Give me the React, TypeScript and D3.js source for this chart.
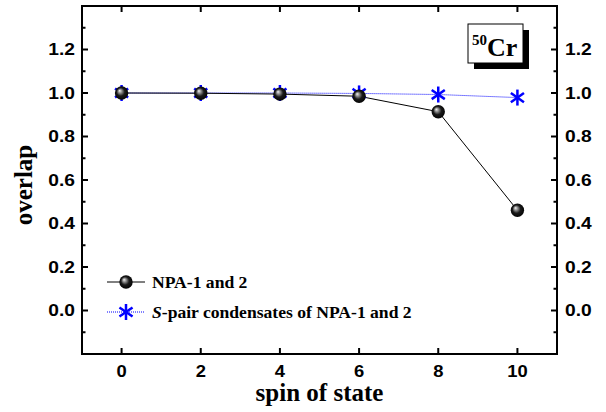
import React from "react";
import * as d3 from "d3";

const spins = [0, 2, 4, 6, 8, 10];
const npaValues = [1.0, 0.999, 0.995, 0.985, 0.914, 0.461];
const sPairValues = [1.0, 1.0, 1.0, 0.998, 0.993, 0.979];
const xTicks = [0, 2, 4, 6, 8, 10];
const yTicks = [0.0, 0.2, 0.4, 0.6, 0.8, 1.0, 1.2];
const yMinorTicks = [-0.1, 0.1, 0.3, 0.5, 0.7, 0.9, 1.1, 1.3];
const legendLabels = ["NPA-1 and 2", "-pair condensates of NPA-1 and 2"];

const W = 606, H = 412;
const L = 82, R = 557, T = 6, B = 354;

function Star({ cx, cy, r }: { cx: number; cy: number; r: number }) {
  const arms = [90, 35, -35];
  return (
    <g stroke="#0000ff" strokeWidth={2.5} strokeLinecap="butt">
      {arms.map((a, i) => {
        const rad = (a * Math.PI) / 180;
        const dx = Math.cos(rad) * r, dy = Math.sin(rad) * r;
        return <line key={i} x1={cx - dx} y1={cy - dy} x2={cx + dx} y2={cy + dy} />;
      })}
    </g>
  );
}

function SText({ x, y, anchor, sx, children, ...rest }: any) {
  return (
    <g transform={`translate(${x},${y}) scale(${sx},1)`}>
      <text x={0} y={0} textAnchor={anchor} {...rest}>
        {children}
      </text>
    </g>
  );
}

export default function App() {
  const x = d3.scaleLinear().domain([-1, 11]).range([L, R]);
  const y = d3.scaleLinear().domain([-0.2, 1.4]).range([B, T]);
  const line = d3.line<number>().x((_, i) => x(spins[i])).y((d) => y(d));
  const tickFont = "'Liberation Sans', Arial, sans-serif";
  const serif = "'Liberation Serif', 'Times New Roman', serif";
  const sphereR = 6.7;
  const tsx = 1.2;

  return (
    <svg width={W} height={H} style={{ position: "absolute", left: 0, top: 0, background: "#fff" }}>
      <defs>
        <radialGradient id="sph" cx="50%" cy="50%" r="55%" fx="35%" fy="32%">
          <stop offset="0%" stopColor="#f4f4f4" />
          <stop offset="22%" stopColor="#9a9a9a" />
          <stop offset="55%" stopColor="#1a1a1a" />
          <stop offset="100%" stopColor="#000" />
        </radialGradient>
      </defs>
      <rect x={0} y={0} width={W} height={H} fill="#fff" />

      {/* data lines */}
      <path d={line(sPairValues) || ""} fill="none" stroke="#0000ff" strokeWidth={1} strokeDasharray="1,1" />
      <path d={line(npaValues) || ""} fill="none" stroke="#000" strokeWidth={1} />

      {/* markers */}
      {sPairValues.map((v, i) => (
        <Star key={"s" + i} cx={x(spins[i])} cy={y(v)} r={8} />
      ))}
      {npaValues.map((v, i) => (
        <circle key={"n" + i} cx={x(spins[i])} cy={y(v)} r={sphereR} fill="url(#sph)" />
      ))}

      {/* axes frame */}
      <rect x={L} y={T} width={R - L} height={B - T} fill="none" stroke="#000" strokeWidth={2} />

      {/* x ticks */}
      {xTicks.map((t) => (
        <g key={"x" + t}>
          <line x1={x(t)} x2={x(t)} y1={B} y2={B - 6} stroke="#000" strokeWidth={2} />
          <line x1={x(t)} x2={x(t)} y1={T} y2={T + 6} stroke="#000" strokeWidth={2} />
          <SText x={x(t)} y={376.5} anchor="middle" sx={1.15} fontFamily={tickFont} fontWeight="bold" fontSize={16}>
            {t}
          </SText>
        </g>
      ))}

      {/* y ticks */}
      {yTicks.map((t) => (
        <g key={"y" + t}>
          <line x1={L} x2={L + 6} y1={y(t)} y2={y(t)} stroke="#000" strokeWidth={2} />
          <line x1={R} x2={R - 6} y1={y(t)} y2={y(t)} stroke="#000" strokeWidth={2} />
          <SText x={75} y={y(t) + 5.8} anchor="end" sx={tsx} fontFamily={tickFont} fontWeight="bold" fontSize={16}>
            {t.toFixed(1)}
          </SText>
          <SText x={565} y={y(t) + 5.8} anchor="start" sx={tsx} fontFamily={tickFont} fontWeight="bold" fontSize={16}>
            {t.toFixed(1)}
          </SText>
        </g>
      ))}
      {yMinorTicks.map((t) => (
        <g key={"ym" + t}>
          <line x1={L} x2={L + 3.5} y1={y(t)} y2={y(t)} stroke="#000" strokeWidth={2} />
          <line x1={R} x2={R - 3.5} y1={y(t)} y2={y(t)} stroke="#000" strokeWidth={2} />
        </g>
      ))}

      {/* axis titles */}
      <text x={(L + R) / 2} y={401} textAnchor="middle" fontFamily={serif} fontWeight="bold" fontSize={25}>
        spin of state
      </text>
      <text
        transform={`translate(32,${185}) rotate(-90)`}
        textAnchor="middle"
        fontFamily={serif}
        fontWeight="bold"
        fontSize={25}
      >
        overlap
      </text>

      {/* nucleus label */}
      <rect x={474} y={30} width={55} height={39} fill="#000" />
      <rect x={468} y={24} width={55} height={39} fill="#fff" stroke="#000" strokeWidth={1} />
      <text x={472} y={56} fontFamily={serif} fontWeight="bold" fontSize={26}>
        <tspan fontSize={15} dy={-11}>50</tspan>
        <tspan dy={11}>Cr</tspan>
      </text>

      {/* legend */}
      <line x1={107} x2={145} y1={282} y2={282} stroke="#000" strokeWidth={1} />
      <circle cx={126} cy={282} r={sphereR} fill="url(#sph)" />
      <SText x={152} y={287.5} anchor="start" sx={1.1} fontFamily={serif} fontWeight="bold" fontSize={16}>
        {legendLabels[0]}
      </SText>
      <line x1={107} x2={145} y1={312} y2={312} stroke="#0000ff" strokeWidth={1} strokeDasharray="1,1" />
      <Star cx={126} cy={312} r={8} />
      <SText x={152} y={317.5} anchor="start" sx={1.1} fontFamily={serif} fontWeight="bold" fontSize={16}>
        <tspan fontStyle="italic">S</tspan>
        {legendLabels[1]}
      </SText>
    </svg>
  );
}
